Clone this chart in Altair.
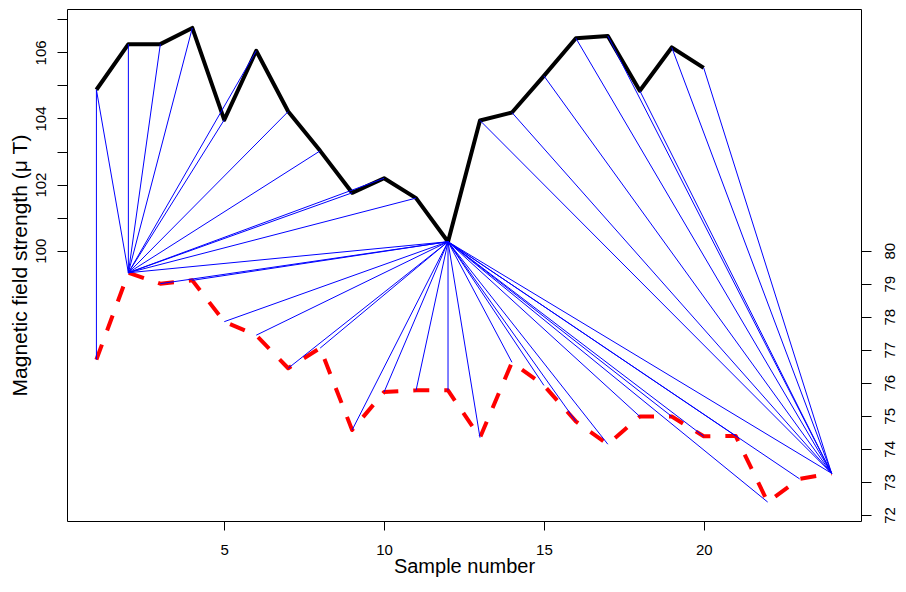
import altair as alt
import pandas as pd

# Series 1 (black, left axis, µT) – sample 1..20
black = [104.87, 106.25, 106.25, 106.74, 103.96, 106.05, 104.21, 103.02, 101.75, 102.19,
         101.59, 100.27, 103.94, 104.18, 105.29, 106.43, 106.50, 104.84, 106.15, 105.53]
# Series 2 (red dashed, right axis, µT) – sample 1..24
red = [76.70, 79.33, 79.00, 79.10, 77.85, 77.44, 76.44, 77.05, 74.57, 75.72,
       75.77, 75.77, 74.34, 76.62, 75.92, 74.83, 74.14, 74.98, 74.98, 74.38,
       74.39, 72.39, 73.09, 73.26]
# Offset between the right axis and the left axis
OFFSET = 20
# Warping path (index into black, index into red), 1-based
path_black = [1, 1, 2, 3, 4, 5, 6, 7, 8, 9, 10, 11,
              12, 12, 12, 12, 12, 12, 12, 12, 12, 12, 12, 12,
              12, 12, 12, 12, 12, 12, 12, 12, 12, 12, 12,
              13, 14, 15, 16, 17, 18, 19, 20]
path_red = [1, 2, 2, 2, 2, 2, 2, 2, 2, 2, 2, 2,
            2, 3, 4, 5, 6, 7, 8, 9, 10, 11, 12, 13,
            14, 15, 16, 17, 18, 19, 20, 21, 22, 23, 24,
            24, 24, 24, 24, 24, 24, 24, 24]

x_ticks = [5, 10, 15, 20]
left_ticks = [100, 101, 102, 103, 104, 105, 106, 107]
right_ticks = [72, 73, 74, 75, 76, 77, 78, 79, 80]

W, H = 794, 512
FONT = "Liberation Sans"

lo = min(min(black), min(red) + OFFSET)
hi = max(max(black), max(red) + OFFSET)
pad = 0.04 * (hi - lo)
ydomL = [lo - pad, hi + pad]
ydomR = [ydomL[0] - OFFSET, ydomL[1] - OFFSET]
n = len(red)
xdom = [1 - 0.04 * (n - 1), n + 0.04 * (n - 1)]

df_b = pd.DataFrame({"x": list(range(1, len(black) + 1)), "y": black})
df_r = pd.DataFrame({"x": list(range(1, len(red) + 1)), "y": red})
df_m = pd.DataFrame({
    "x": path_black,
    "y": [black[i - 1] for i in path_black],
    "x2": path_red,
    "y2": [red[j - 1] + OFFSET for j in path_red],
})

xs = alt.Scale(domain=xdom, nice=False, zero=False)
ysL = alt.Scale(domain=ydomL, nice=False, zero=False)
ysR = alt.Scale(domain=ydomR, nice=False, zero=False)

xaxis = alt.Axis(values=x_ticks, title="Sample number", tickSize=9, labelPadding=12,
                 labelBaseline="top", labelAlign="center", labelFontSize=15,
                 titleFontSize=20, titleX=W / 2, titleY=51, titleAlign="center",
                 titleBaseline="alphabetic", labelOverlap=False, labelFlush=False)

left_axis = alt.Axis(values=left_ticks, orient="left", tickSize=10,
                     labelExpr="datum.value % 2 == 0 ? datum.label : ''",
                     labelAngle=270, labelAlign="center", labelBaseline="alphabetic",
                     labelPadding=12, labelFontSize=15, labelOverlap=False,
                     title="Magnetic field strength (μ T)", titleAngle=270,
                     titleX=-41, titleY=H / 2, titleAlign="center",
                     titleBaseline="alphabetic", titleFontSize=21)

right_axis = alt.Axis(values=right_ticks, orient="right", tickSize=10,
                      labelAngle=270, labelAlign="center", labelBaseline="top",
                      labelPadding=11, labelFontSize=15, labelOverlap=False, title=None)

black_line = alt.Chart(df_b).mark_line(color="black", strokeWidth=4, strokeJoin="round").encode(
    x=alt.X("x:Q", scale=xs, axis=xaxis),
    y=alt.Y("y:Q", scale=ysL, axis=left_axis),
)

red_line = alt.Chart(df_r).mark_line(color="red", strokeWidth=4, strokeDash=[16, 15],
                                     strokeCap="butt", strokeJoin="round").encode(
    x=alt.X("x:Q", scale=xs, axis=xaxis),
    y=alt.Y("y:Q", scale=ysR, axis=right_axis),
)

matches = alt.Chart(df_m).mark_rule(color="#0000ff", strokeWidth=1).encode(
    x=alt.X("x:Q", scale=xs, axis=xaxis),
    y=alt.Y("y:Q", scale=ysL, axis=None),
    x2="x2:Q",
    y2="y2:Q",
)

chart = alt.layer(black_line, red_line, matches).resolve_scale(y="independent").properties(
    width=W, height=H,
    autosize=alt.AutoSizeParams(type="none"),
    padding={"left": 59, "top": 1, "right": 37, "bottom": 56},
).configure_view(stroke="black", strokeWidth=1).configure_axis(
    grid=False, domain=False, tickColor="black", tickWidth=1,
    labelColor="black", labelFont=FONT, titleFont=FONT,
    titleFontWeight="normal", titleColor="black",
)

chart.save("out.html", embed_options={"renderer": "svg", "actions": False})
